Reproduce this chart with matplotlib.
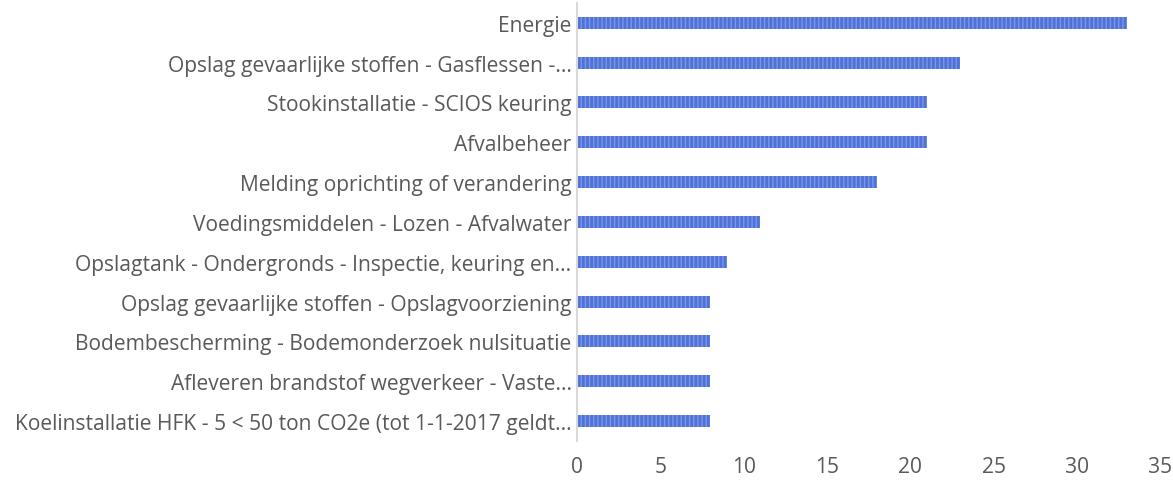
import matplotlib.pyplot as plt

categories = [
    'Energie',
    'Opslag gevaarlijke stoffen - Gasflessen -...',
    'Stookinstallatie - SCIOS keuring',
    'Afvalbeheer',
    'Melding oprichting of verandering',
    'Voedingsmiddelen - Lozen - Afvalwater',
    'Opslagtank - Ondergronds - Inspectie, keuring en...',
    'Opslag gevaarlijke stoffen - Opslagvoorziening',
    'Bodembescherming - Bodemonderzoek nulsituatie',
    'Afleveren brandstof wegverkeer - Vaste...',
    'Koelinstallatie HFK - 5 < 50 ton CO2e (tot 1-1-2017 geldt...',
]
values = [33, 23, 21, 21, 18, 11, 9, 8, 8, 8, 8]
xticks = [0, 5, 10, 15, 20, 25, 30, 35]

plt.rcParams['font.family'] = ['Open Sans', 'DejaVu Sans']
plt.rcParams['hatch.color'] = '#7d97e6'

fig = plt.figure(figsize=(11.73, 4.81), dpi=100)
ax = fig.add_axes([0.492, 0.081, 0.497, 0.911])

ypos = list(range(len(categories)))
ax.barh(ypos, values, height=0.3, color='#4f72d8', linewidth=0, hatch='||||')

ax.set_yticks(ypos)
ax.set_yticklabels(categories, fontsize=15.1, color='#595959')
ax.set_ylim(len(categories) - 0.5, -0.5)
ax.set_xlim(0, 35)
ax.set_xticks(xticks)
ax.set_xticklabels([str(t) for t in xticks], fontsize=15.1, color='#595959')
ax.tick_params(axis='both', length=0)
ax.tick_params(axis='x', pad=11)
ax.tick_params(axis='y', pad=4)

for s in ['top', 'right', 'bottom']:
    ax.spines[s].set_visible(False)
ax.spines['left'].set_color('#d9d9d9')
ax.spines['left'].set_linewidth(1.5)

fig.savefig('out.png', dpi=100)
